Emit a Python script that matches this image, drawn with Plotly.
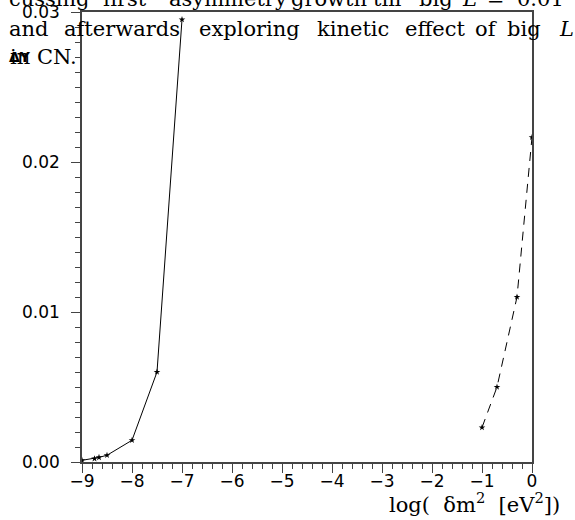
import plotly.graph_objects as go

# ---- data ----
x_solid = [-9.0, -8.75, -8.66, -8.5, -8.0, -7.5, -7.0]
y_solid = [0.00011, 0.00022, 0.00031, 0.00045, 0.00145, 0.0060, 0.0295]
x_dash = [-1.0, -0.7, -0.3, 0.0]
y_dash = [0.0023, 0.0050, 0.0110, 0.02165]

x_ticks = [-9, -8, -7, -6, -5, -4, -3, -2, -1, 0]
y_ticks = [0.00, 0.01, 0.02, 0.03]
y_tick_text = ["0.00", "0.01", "0.02", "0.03"]

# overlapping text from page (word, x-pixel)
line1 = [("cussing", 7), ("first", 101), ("asymmetry", 167), ("growth", 289),
         ("till", 371), ("big", 417), ("<i>L</i>", 460), ("≃", 485), ("0.01", 515)]
line2 = [("and", 7), ("afterwards", 62), ("exploring", 197), ("kinetic", 315),
         ("effect", 403), ("of", 473), ("big", 505), ("<i>L</i>", 557)]
line3 = [("in", 8), ("CN.", 35)]

W, H = 575, 520
L, R, T, B = 82, 43, 12, 58
PW, PH = W - L - R, H - T - B


def px(xp):
    return (xp - L) / PW


def py(yp):
    return 1 - (yp - T) / PH


fig = go.Figure()
fig.add_trace(go.Scatter(x=x_solid, y=y_solid, mode="lines+markers",
                         line=dict(color="black", width=1),
                         marker=dict(symbol="star", size=5, color="black"),
                         showlegend=False))
fig.add_trace(go.Scatter(x=x_dash, y=y_dash, mode="lines+markers",
                         line=dict(color="black", width=1, dash="9px,7px"),
                         marker=dict(symbol="star", size=5, color="black"),
                         showlegend=False))

annotations = []
serif = dict(family="DejaVu Serif", size=21, color="black")
for words, yc in ((line1, -1), (line2, 29), (line3, 57)):
    for w, xp in words:
        annotations.append(dict(text=w, x=px(xp), y=py(yc), xref="paper", yref="paper",
                                xanchor="left", yanchor="middle", showarrow=False,
                                font=serif))
annotations.append(dict(text="<b>ΔY</b>", x=px(7), y=py(57), xref="paper", yref="paper",
                        xanchor="left", yanchor="middle", showarrow=False,
                        font=dict(family="DejaVu Sans", size=14, color="black")))
nb = "\u00a0"
annotations.append(dict(text=f"log({nb}{nb}δm<sup>2</sup>{nb}{nb}[eV<sup>2</sup>])",
                        x=px(562), y=py(503),
                        xref="paper", yref="paper", xanchor="right", yanchor="middle",
                        showarrow=False,
                        font=dict(family="DejaVu Serif", size=21, color="black")))

axis_common = dict(showgrid=False, zeroline=False, showline=True, linecolor="#444",
                   linewidth=1.5, mirror=True, ticks="outside", tickcolor="#444",
                   tickwidth=1, ticklen=9, automargin=False,
                   tickfont=dict(family="DejaVu Sans", size=17, color="black"))

fig.update_layout(
    width=W, height=H,
    margin=dict(l=L, r=R, t=T, b=B),
    paper_bgcolor="white", plot_bgcolor="white",
    xaxis=dict(range=[-9, 0], tickvals=x_ticks, ticklabelstandoff=-6,
               minor=dict(dtick=0.2, ticks="outside", ticklen=5, tickcolor="#444"),
               **axis_common),
    yaxis=dict(range=[0, 0.03], tickvals=y_ticks, ticktext=y_tick_text,
               ticklabelstandoff=8,
               minor=dict(dtick=0.001, ticks="outside", ticklen=5, tickcolor="#444"),
               **axis_common),
    annotations=annotations,
)

fig.write_html("out.html")
